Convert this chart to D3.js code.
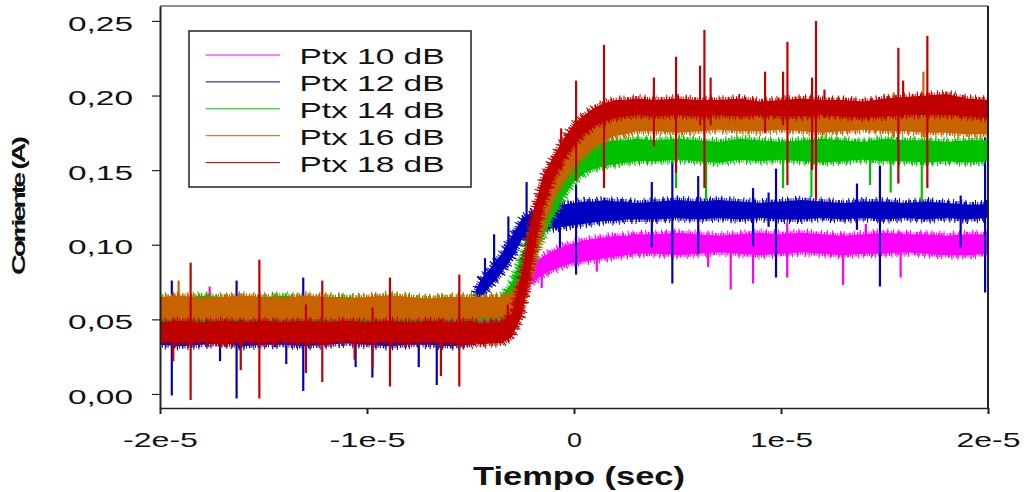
<!DOCTYPE html>
<html>
<head>
<meta charset="utf-8">
<script src="https://cdn.jsdelivr.net/npm/d3@7"></script>
<style>
    html, body { margin: 0; padding: 0; background: #fff; }
    svg { display: block; }
</style>
</head>
<body>
<div id="chart"></div>
<script>
// time axis of the read-off envelopes, in microseconds
const tiempoUs = [-20, -19, -18, -17, -16, -15, -14, -13, -12, -11, -10, -9, -8, -7, -6, -5, -4.75,
    -4.5, -4, -3.5, -3, -2.5, -2, -1.5, -1, -0.5, 0, 0.5, 1, 1.5, 2, 2.5, 3,
    4, 5, 6, 7, 8, 9, 10, 11, 12, 13, 14, 15, 16, 17, 18, 19, 20];

// lower / upper edge of each noisy trace (A)
const ptx10Bajo = [0.043, 0.042, 0.044, 0.043, 0.042, 0.043, 0.044, 0.042, 0.043, 0.042, 0.044, 0.043, 0.042, 0.043, 0.044, 0.043, 0.043,
    0.043, 0.044, 0.044, 0.054, 0.068, 0.075, 0.080, 0.083, 0.086, 0.088, 0.089, 0.090, 0.091, 0.092, 0.093, 0.094,
    0.094, 0.093, 0.094, 0.095, 0.094, 0.093, 0.094, 0.095, 0.094, 0.093, 0.094, 0.094, 0.095, 0.094, 0.093, 0.093, 0.094];
const ptx10Alto = [0.059, 0.058, 0.060, 0.059, 0.061, 0.058, 0.059, 0.060, 0.058, 0.059, 0.060, 0.059, 0.058, 0.060, 0.059, 0.059, 0.059,
    0.059, 0.059, 0.059, 0.067, 0.081, 0.088, 0.092, 0.096, 0.099, 0.101, 0.103, 0.104, 0.105, 0.106, 0.106, 0.107,
    0.107, 0.108, 0.107, 0.106, 0.107, 0.108, 0.107, 0.108, 0.107, 0.106, 0.107, 0.108, 0.107, 0.107, 0.106, 0.107, 0.107];

const ptx12Bajo = [0.033, 0.032, 0.033, 0.034, 0.032, 0.033, 0.033, 0.032, 0.033, 0.034, 0.033, 0.032, 0.033, 0.033, 0.032, 0.033, 0.059,
    0.065, 0.073, 0.081, 0.091, 0.104, 0.107, 0.110, 0.111, 0.112, 0.113, 0.114, 0.115, 0.116, 0.116, 0.117, 0.117,
    0.117, 0.118, 0.117, 0.118, 0.117, 0.118, 0.117, 0.117, 0.118, 0.117, 0.118, 0.117, 0.118, 0.117, 0.118, 0.117, 0.118];
const ptx12Alto = [0.046, 0.047, 0.046, 0.045, 0.047, 0.046, 0.046, 0.047, 0.045, 0.046, 0.047, 0.046, 0.046, 0.045, 0.047, 0.046, 0.069,
    0.077, 0.085, 0.094, 0.106, 0.118, 0.122, 0.125, 0.126, 0.127, 0.128, 0.129, 0.129, 0.130, 0.129, 0.129, 0.128,
    0.129, 0.130, 0.129, 0.130, 0.129, 0.128, 0.129, 0.130, 0.129, 0.128, 0.129, 0.129, 0.128, 0.129, 0.128, 0.127, 0.127];

const ptx14Bajo = [0.048, 0.049, 0.048, 0.048, 0.049, 0.048, 0.049, 0.048, 0.048, 0.049, 0.048, 0.049, 0.048, 0.048, 0.049, 0.048, 0.048,
    0.049, 0.049, 0.049, 0.059, 0.073, 0.089, 0.105, 0.119, 0.132, 0.142, 0.148, 0.151, 0.153, 0.154, 0.155, 0.156,
    0.156, 0.157, 0.156, 0.155, 0.157, 0.156, 0.157, 0.156, 0.155, 0.156, 0.157, 0.156, 0.156, 0.155, 0.156, 0.155, 0.156];
const ptx14Alto = [0.065, 0.064, 0.066, 0.065, 0.064, 0.065, 0.066, 0.064, 0.065, 0.065, 0.064, 0.066, 0.065, 0.064, 0.065, 0.065, 0.065,
    0.065, 0.065, 0.065, 0.075, 0.094, 0.111, 0.124, 0.137, 0.149, 0.159, 0.165, 0.168, 0.169, 0.170, 0.170, 0.171,
    0.170, 0.171, 0.170, 0.169, 0.171, 0.170, 0.169, 0.170, 0.171, 0.170, 0.169, 0.171, 0.170, 0.170, 0.169, 0.170, 0.170];

const ptx16Bajo = [0.050, 0.049, 0.050, 0.049, 0.050, 0.049, 0.050, 0.049, 0.050, 0.049, 0.050, 0.049, 0.050, 0.049, 0.050, 0.050, 0.050,
    0.051, 0.051, 0.051, 0.053, 0.059, 0.083, 0.111, 0.131, 0.143, 0.153, 0.160, 0.166, 0.170, 0.173, 0.174, 0.176,
    0.176, 0.175, 0.176, 0.177, 0.176, 0.176, 0.177, 0.176, 0.175, 0.176, 0.177, 0.176, 0.176, 0.175, 0.175, 0.174, 0.174];
const ptx16Alto = [0.065, 0.066, 0.064, 0.065, 0.066, 0.065, 0.064, 0.066, 0.065, 0.064, 0.065, 0.066, 0.065, 0.064, 0.065, 0.065, 0.065,
    0.065, 0.065, 0.065, 0.067, 0.077, 0.107, 0.131, 0.149, 0.159, 0.167, 0.176, 0.181, 0.184, 0.186, 0.187, 0.188,
    0.188, 0.189, 0.188, 0.187, 0.188, 0.189, 0.188, 0.187, 0.188, 0.189, 0.188, 0.187, 0.188, 0.189, 0.189, 0.188, 0.187];

const ptx18Bajo = [0.035, 0.034, 0.035, 0.033, 0.035, 0.034, 0.035, 0.034, 0.034, 0.035, 0.034, 0.035, 0.034, 0.035, 0.034, 0.033, 0.034,
    0.033, 0.034, 0.034, 0.038, 0.053, 0.091, 0.125, 0.144, 0.157, 0.167, 0.174, 0.180, 0.183, 0.185, 0.186, 0.187,
    0.186, 0.187, 0.186, 0.187, 0.186, 0.187, 0.186, 0.186, 0.187, 0.186, 0.185, 0.186, 0.187, 0.187, 0.187, 0.186, 0.185];
const ptx18Alto = [0.048, 0.049, 0.048, 0.049, 0.048, 0.049, 0.048, 0.049, 0.048, 0.049, 0.048, 0.049, 0.048, 0.049, 0.048, 0.049, 0.048,
    0.047, 0.048, 0.048, 0.054, 0.083, 0.121, 0.146, 0.159, 0.171, 0.181, 0.187, 0.192, 0.195, 0.197, 0.197, 0.198,
    0.197, 0.198, 0.197, 0.197, 0.198, 0.196, 0.197, 0.198, 0.197, 0.197, 0.196, 0.198, 0.199, 0.200, 0.201, 0.198, 0.197];

// isolated spikes: [time us, low A, high A]
const picos10 = [[-17.6, 0.045, 0.072], [-1.56, 0.071, 0.090], [1.1, 0.082, 0.100], [6.48, 0.085, 0.105],
    [7.57, 0.070, 0.105], [8.65, 0.074, 0.105], [10.3, 0.078, 0.115], [13.0, 0.073, 0.107],
    [14.1, 0.095, 0.114], [15.78, 0.078, 0.108]];
const picos12 = [[-19.43, -0.001, 0.076], [-17.1, 0.022, 0.047], [-16.3, -0.003, 0.076], [-13.9, 0.020, 0.047],
    [-13.08, 0.002, 0.078], [-10.55, 0.018, 0.047], [-9.74, 0.011, 0.060], [-7.5, 0.018, 0.047],
    [-6.63, 0.006, 0.047], [-4.3, 0.075, 0.091], [-3.86, 0.082, 0.107], [-3.17, 0.095, 0.119],
    [-2.29, 0.070, 0.142], [-0.68, 0.098, 0.128], [0.10, 0.080, 0.141], [3.76, 0.098, 0.142],
    [4.75, 0.074, 0.156], [6.0, 0.094, 0.146], [8.65, 0.099, 0.138], [9.4, 0.112, 0.135],
    [9.76, 0.078, 0.151], [13.67, 0.110, 0.141], [14.78, 0.072, 0.153], [18.68, 0.098, 0.133],
    [19.86, 0.068, 0.172]];
const picos14 = [[4.93, 0.138, 0.170], [6.38, 0.130, 0.170], [10.1, 0.138, 0.170], [11.47, 0.132, 0.170],
    [14.3, 0.140, 0.170], [15.3, 0.135, 0.170], [16.8, 0.129, 0.170]];
const picos16 = [[-19.1, 0.050, 0.076], [15.45, 0.172, 0.202], [16.88, 0.172, 0.216]];
const picos18 = [[-19.36, 0.022, 0.049], [-18.52, -0.004, 0.088], [-16.1, 0.016, 0.050], [-15.2, -0.003, 0.090],
    [-12.95, 0.014, 0.060], [-12.16, 0.008, 0.076], [-10.6, 0.023, 0.049], [-9.73, 0.018, 0.058],
    [-8.89, 0.005, 0.078], [-6.43, 0.012, 0.050], [-5.54, 0.005, 0.080], [-3.2, 0.038, 0.060],
    [-0.62, 0.150, 0.178], [0.10, 0.143, 0.210], [1.45, 0.138, 0.234], [3.86, 0.166, 0.212],
    [4.93, 0.148, 0.226], [6.09, 0.180, 0.220], [6.30, 0.138, 0.244], [6.60, 0.180, 0.212],
    [9.23, 0.175, 0.216], [10.1, 0.180, 0.216], [10.31, 0.140, 0.236], [11.50, 0.150, 0.212],
    [11.69, 0.130, 0.250], [12.1, 0.185, 0.204], [15.67, 0.141, 0.232], [15.9, 0.185, 0.210],
    [17.07, 0.138, 0.240]];

const seriesNames = ["Ptx 10 dB", "Ptx 12 dB", "Ptx 14 dB", "Ptx 16 dB", "Ptx 18 dB"];
const yTickValues = [0, 0.05, 0.10, 0.15, 0.20, 0.25];
const yTickLabels = ["0,00", "0,05", "0,10", "0,15", "0,20", "0,25"];
const xTickValues = [-2e-5, -1e-5, 0, 1e-5, 2e-5];
const xTickLabels = ["-2e-5", "-1e-5", "0", "1e-5", "2e-5"];

// styling
const colors = ["#ff00ff", "#0000c0", "#00c000", "#c86400", "#c00000"];
const fontFamily = "'Liberation Sans', Arial, Helvetica, sans-serif";
const xTickWidths = [75, 76, 15, 63, 64];
// ragged edge of the noisy band (pure stroke styling)
const fringeFine = "1 1.2 1 2 1.5 1 1 2.6 1 1.4 2 1.1";
const fringeCoarse = "1 4 1 7 1.2 3 1 9 1 5";

const width = 1031, height = 492;
const plot = { left: 160, right: 988, top: 6, bottom: 408 };

const x = d3.scaleLinear().domain([-2e-5, 2e-5]).range([plot.left, plot.right]);
const y = d3.scaleLinear().domain([-0.0094, 0.26]).range([plot.bottom, plot.top]);

const lows = [ptx10Bajo, ptx12Bajo, ptx14Bajo, ptx16Bajo, ptx18Bajo];
const highs = [ptx10Alto, ptx12Alto, ptx14Alto, ptx16Alto, ptx18Alto];
const spikes = [picos10, picos12, picos14, picos16, picos18];

const seriesList = seriesNames.map((name, i) => ({
    name,
    color: colors[i],
    values: tiempoUs.map((t, j) => ({ t: t * 1e-6, lo: lows[i][j], hi: highs[i][j] })),
    spikes: spikes[i].map(s => ({ t: s[0] * 1e-6, lo: s[1], hi: s[2] }))
}));

const svg = d3.select("#chart").append("svg")
    .attr("width", width)
    .attr("height", height)
    .attr("viewBox", `0 0 ${width} ${height}`);

svg.append("defs").append("clipPath")
    .attr("id", "plot-clip")
    .append("rect")
    .attr("x", plot.left)
    .attr("y", plot.top)
    .attr("width", plot.right - plot.left)
    .attr("height", plot.bottom - plot.top);

const areaGen = d3.area()
    .x(d => x(d.t))
    .y0(d => y(d.lo))
    .y1(d => y(d.hi));
const lowLine = d3.line().x(d => x(d.t)).y(d => y(d.lo));
const highLine = d3.line().x(d => x(d.t)).y(d => y(d.hi));

const traces = svg.append("g").attr("clip-path", "url(#plot-clip)")
    .selectAll("g")
    .data(seriesList)
    .join("g");

traces.append("path")
    .attr("d", d => areaGen(d.values))
    .attr("fill", d => d.color);

// ragged edges
[lowLine, highLine].forEach(gen => {
    traces.append("path")
        .attr("d", d => gen(d.values))
        .attr("fill", "none")
        .attr("stroke", d => d.color)
        .attr("stroke-width", 5)
        .attr("stroke-dasharray", fringeFine);
    traces.append("path")
        .attr("d", d => gen(d.values))
        .attr("fill", "none")
        .attr("stroke", d => d.color)
        .attr("stroke-width", 9)
        .attr("stroke-dasharray", fringeCoarse);
});

traces.selectAll("line.spike")
    .data(d => d.spikes.map(s => ({ ...s, color: d.color })))
    .join("line")
    .attr("class", "spike")
    .attr("x1", d => x(d.t))
    .attr("x2", d => x(d.t))
    .attr("y1", d => y(d.lo))
    .attr("y2", d => y(d.hi))
    .attr("stroke", d => d.color)
    .attr("stroke-width", 2.2);

// frame top and right
svg.append("line")
    .attr("x1", plot.left).attr("x2", plot.right)
    .attr("y1", plot.top).attr("y2", plot.top)
    .attr("stroke", "#222").attr("stroke-width", 1.2);
svg.append("line")
    .attr("x1", plot.right).attr("x2", plot.right)
    .attr("y1", plot.top).attr("y2", plot.bottom)
    .attr("stroke", "#222").attr("stroke-width", 2);

// y axis
svg.append("g")
    .attr("transform", `translate(${plot.left},0)`)
    .call(d3.axisLeft(y).tickValues(yTickValues).tickFormat((d, i) => yTickLabels[i])
        .tickSize(8).tickSizeOuter(0).tickPadding(19))
    .call(g => g.select(".domain").attr("stroke", "#222").attr("stroke-width", 2))
    .call(g => g.selectAll(".tick line").attr("stroke", "#222").attr("stroke-width", 1.2))
    .call(g => g.selectAll(".tick text")
        .attr("fill", "#111")
        .attr("dy", "0.45em")
        .attr("textLength", 65)
        .attr("lengthAdjust", "spacingAndGlyphs")
        .style("font-family", fontFamily)
        .style("font-size", "20.5px"));

// x axis
svg.append("g")
    .attr("transform", `translate(0,${plot.bottom})`)
    .call(d3.axisBottom(x).tickValues(xTickValues).tickFormat((d, i) => xTickLabels[i])
        .tickSize(6).tickSizeOuter(0).tickPadding(17.7))
    .call(g => g.select(".domain").attr("stroke", "#222").attr("stroke-width", 1.4))
    .call(g => g.selectAll(".tick line").attr("stroke", "#222").attr("stroke-width", 2))
    .call(g => g.selectAll(".tick text")
        .attr("fill", "#111")
        .attr("textLength", (d, i) => xTickWidths[i])
        .attr("lengthAdjust", "spacingAndGlyphs")
        .style("font-family", fontFamily)
        .style("font-size", "21px"));

// axis titles
svg.append("text")
    .attr("x", 579)
    .attr("y", 485)
    .attr("text-anchor", "middle")
    .attr("textLength", 212)
    .attr("lengthAdjust", "spacingAndGlyphs")
    .attr("fill", "#111")
    .style("font-family", fontFamily)
    .style("font-size", "25px")
    .style("font-weight", "bold")
    .text("Tiempo (sec)");

svg.append("text")
    .attr("transform", "translate(25,207) rotate(-90)")
    .attr("text-anchor", "middle")
    .attr("textLength", 136)
    .attr("lengthAdjust", "spacingAndGlyphs")
    .attr("fill", "#111")
    .style("font-family", fontFamily)
    .style("font-size", "19px")
    .style("font-weight", "bold")
    .style("letter-spacing", "-2px")
    .text("Corriente (A)");

// legend
const legend = svg.append("g");
legend.append("rect")
    .attr("x", 189)
    .attr("y", 31)
    .attr("width", 282)
    .attr("height", 156)
    .attr("fill", "#fff")
    .attr("stroke", "#222")
    .attr("stroke-width", 1.5);

const legendItems = legend.selectAll("g")
    .data(seriesList)
    .join("g")
    .attr("transform", (d, i) => `translate(0,${55 + i * 26.9})`);

legendItems.append("line")
    .attr("x1", 205.7)
    .attr("x2", 280)
    .attr("stroke", d => d.color)
    .attr("stroke-width", 1);

legendItems.append("text")
    .attr("x", 299.5)
    .attr("y", 9)
    .attr("textLength", 145)
    .attr("lengthAdjust", "spacingAndGlyphs")
    .attr("fill", "#111")
    .style("font-family", fontFamily)
    .style("font-size", "22px")
    .text(d => d.name);
</script>
</body>
</html>
